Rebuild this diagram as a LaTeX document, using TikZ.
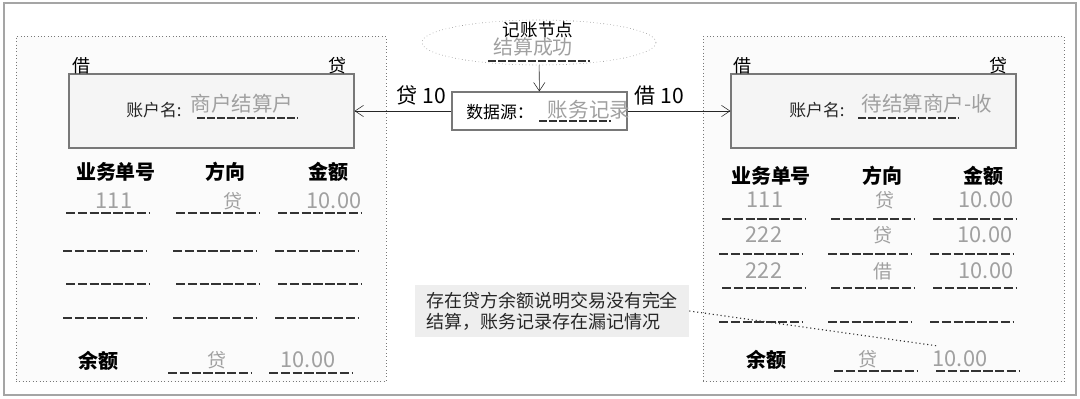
\documentclass[tikz,border=0pt]{standalone}
\usepackage{fontspec}
\setmainfont{Noto Sans CJK SC}
\usepackage{tikz}
\usetikzlibrary{shapes.geometric, arrows.meta}
\definecolor{LineGray}{RGB}{120,120,120}
\definecolor{FrameGray}{RGB}{165,165,165}
\definecolor{ValGray}{RGB}{160,160,160}
\definecolor{BoxFill}{RGB}{245,245,245}
\definecolor{PanelFill}{RGB}{251,251,251}
\definecolor{NoteFill}{RGB}{238,238,238}

\begin{document}
\begin{tikzpicture}[x=0.025cm, y=-0.025cm,
      panel/.style={rectangle, draw=LineGray, dotted, fill=PanelFill},
      acct/.style={rectangle, draw=LineGray, thick, fill=BoxFill,
                   minimum width=7.125cm, minimum height=1.85cm},
      hd/.style={font=\fontsize{14.2}{17}\selectfont\bfseries, inner sep=0pt},
      val/.style={text=ValGray, font=\fontsize{13.5}{16}\selectfont, inner sep=0pt},
      num/.style={text=ValGray, font=\fontsize{15.5}{18}\selectfont, inner sep=0pt},
      side/.style={font=\fontsize{12.8}{15}\selectfont, inner sep=0pt},
      lbl/.style={font=\fontsize{12}{14}\selectfont, inner sep=0pt},
      big/.style={text=ValGray, font=\fontsize{14.6}{17}\selectfont, inner sep=0pt},
      uline/.style={draw=black!80, line width=1.1pt, dash pattern=on 6.6pt off 1.8pt},
      sline/.style={draw=black!80, line width=1.1pt, dash pattern=on 5.5pt off 1.6pt},
      arr/.style={-{Straight Barb[length=6pt, width=8pt]}, draw=black!85, thin}
    ]
    \useasboundingbox (0,0) rectangle (1080,399);
    \draw[FrameGray, line width=1.2pt] (4,3) rectangle (1076,395);

    % the two accounts
    \node[panel, minimum width=9.25cm,  minimum height=8.625cm] (lpanel) at (201,209) {};
    \node[panel, minimum width=9.025cm, minimum height=8.625cm] (rpanel) at (883.5,209) {};
    \node[acct] (lacc) at (211.5,111) {};
    \node[acct] (racc) at (873.5,111) {};

    \node[side] (ljie) at (81,66)  {借};
    \node[side] (ldai) at (337,66) {贷};
    \node[side] (rjie) at (742,66) {借};
    \node[side] (rdai) at (998,66) {贷};

    \node[lbl, text=black!85] (lname) at (154,110) {账户名:};
    \node[big] (lnameval) at (242,104) {商户结算户};
    \draw[sline] (197,118) -- (298,118);
    \node[lbl, text=black!85] (rname) at (817,110) {账户名:};
    \node[big] (rnameval) at (927,104) {待结算商户-收};
    \draw[sline] (858,118) -- (959,118);

    % booking node and data source
    \node[ellipse, draw=LineGray, dotted, minimum width=5.85cm, minimum height=1.125cm] (book) at (539,42.5) {};
    \node[lbl, font=\fontsize{12.5}{15}\selectfont] (booklbl) at (538,30) {记账节点};
    \node[big, font=\fontsize{14.2}{17}\selectfont] (bookval) at (533,47) {结算成功};
    \draw[sline] (488,61) -- (590,61);
    \node[rectangle, draw=LineGray, thick, fill=white, minimum width=4.375cm, minimum height=0.95cm] (src) at (539.5,111) {};
    \node[lbl] (srclbl) at (500,112) {数据源：};
    \node[big] (srcval) at (589,110) {账务记录};
    \draw[sline] (539,121) -- (611,121);

    \draw[arr] (book) -- (src);
    \draw[arr] (src) -- node[above, pos=0.31, inner sep=4pt, font=\fontsize{15}{18}\selectfont] (lflow) {贷 10} (lacc);
    \draw[arr] (src) -- node[above, pos=0.31, inner sep=4pt, font=\fontsize{15}{18}\selectfont] (rflow) {借 10} (racc);

    % left table
    \node[hd] (lhno)  at (116,172) {业务单号};
    \node[hd] (lhdir) at (225,172) {方向};
    \node[hd] (lhamt) at (328,172) {金额};
    \node[num] (l1no)  at (114,201) {111};
    \node[val] (l1dir) at (233,201) {贷};
    \node[num] (l1amt) at (334,201) {10.00};
    \foreach \y/\d in {213/3, 251/0, 284/3, 318/0}
      \foreach \x in {63,173,275}
        \draw[uline] (\x+\d,\y) -- (\x+\d+83,\y);
    \node[hd] (lbal)    at (98,361)  {余额};
    \node[val] (lbaldir) at (217,360) {贷};
    \node[num] (lbalamt) at (308,360) {10.00};
    \draw[uline] (168,373) -- (251,373);
    \draw[uline] (269,373) -- (352,373);

    % right table
    \node[hd] (rhno)  at (771,176) {业务单号};
    \node[hd] (rhdir) at (882,176) {方向};
    \node[hd] (rhamt) at (983,176) {金额};
    \node[num] (r1no)  at (765,200) {111};
    \node[val] (r1dir) at (885,200) {贷};
    \node[num] (r1amt) at (986,200) {10.00};
    \node[num] (r2no)  at (764,235) {222};
    \node[val] (r2dir) at (883,235) {贷};
    \node[num] (r2amt) at (985,235) {10.00};
    \node[num] (r3no)  at (764,271) {222};
    \node[val] (r3dir) at (883,271) {借};
    \node[num] (r3amt) at (986,271) {10.00};
    \foreach \y/\d in {219/3, 254/0, 288/3, 322/0}
      \foreach \x in {719,828,930}
        \draw[uline] (\x+\d,\y) -- (\x+\d+83,\y);
    \node[hd] (rbal)    at (766,360) {余额};
    \node[val] (rbaldir) at (868,359) {贷};
    \node[num] (rbalamt) at (960,359) {10.00};
    \draw[uline] (834,371) -- (917,371);
    \draw[uline] (936,371) -- (1020,371);

    % remark
    \node[rectangle, fill=NoteFill, minimum width=6.85cm, minimum height=1.3cm, align=left,
          font=\fontsize{12.8}{15}\selectfont, text=black!85] (note) at (552,311)
          {存在贷方余额说明交易没有完全\\结算，账务记录存在漏记情况};
    \coordinate (tip) at (938,346);
    \draw[black!80, dotted, thick] (note.east) -- (tip);
\end{tikzpicture}
\end{document}
